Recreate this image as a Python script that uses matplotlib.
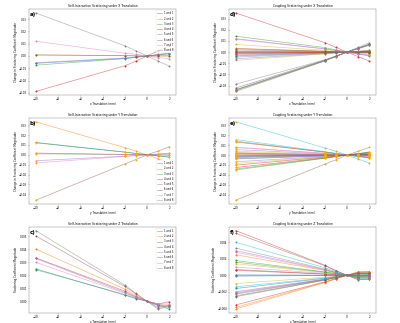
import numpy as np
import matplotlib
matplotlib.use("Agg")
import matplotlib.pyplot as plt

# translation steps (mm)
x_mm = [-10, -2, -1, 0, 1, 2]
tick_x = [-10, -8, -6, -4, -2, 0, 2]

self_labels = ["1 and 1", "2 and 2", "3 and 3", "4 and 4",
               "5 and 5", "6 and 6", "7 and 7", "8 and 8"]

# ---- self-interaction, X translation
self_x = [
    [-0.0060, -0.0020, -0.0010, 0, 0.0010, 0.0020],
    [0.0009, 0.0002, 0.0001, 0, -0.0001, -0.0002],
    [-0.0075, -0.0022, -0.0011, 0, 0.0009, 0.0017],
    [-0.0289, -0.0080, -0.0042, 0, 0.0042, 0.0083],
    [-0.0055, -0.0016, -0.0008, 0, 0.0012, 0.0025],
    [0.0008, 0.0003, 0.0001, 0, 0.0001, 0.0002],
    [0.0120, 0.0022, 0.0014, 0, -0.0014, -0.0022],
    [0.0350, 0.0083, 0.0042, 0, -0.0042, -0.0083],
]

# ---- self-interaction, Y translation
self_y = [
    [0.0125, 0.0028, 0.0014, 0, -0.0011, -0.0024],
    [0.0334, 0.0072, 0.0038, 0, -0.0041, -0.0082],
    [0.0121, 0.0026, 0.0013, 0, -0.0010, -0.0023],
    [0.0017, 0.0004, 0.0002, 0, -0.0001, -0.0003],
    [-0.0060, -0.0014, -0.0007, 0, 0.0007, 0.0014],
    [-0.0460, -0.0092, -0.0048, 0, 0.0038, 0.0082],
    [-0.0082, -0.0017, -0.0009, 0, 0.0008, 0.0017],
    [0.0010, 0.0002, 0.0001, 0, -0.0001, -0.0002],
]

# ---- self-interaction, Z translation
self_z = [
    [0.00250, 0.00047, 0.00020, 0, -0.00034, -0.00060],
    [0.00403, 0.00094, 0.00044, 0, -0.00026, -0.00030],
    [0.00244, 0.00052, 0.00023, 0, -0.00030, -0.00047],
    [0.00335, 0.00078, 0.00036, 0, -0.00020, -0.00003],
    [0.00330, 0.00068, 0.00030, 0, -0.00026, -0.00040],
    [0.00504, 0.00114, 0.00057, 0, -0.00050, -0.00030],
    [0.00300, 0.00062, 0.00030, 0, -0.00020, -0.00020],
    [0.00545, 0.00125, 0.00060, 0, -0.00060, -0.00040],
]

# ---- coupling, X translation (28 coil pairs)
coup_x = [
    [-0.0006, -0.0002, -0.0001, 0, 0.0001, 0.0002],
    [0.0033, 0.0008, 0.0004, 0, -0.0004, -0.0008],
    [0.0142, 0.0040, 0.0019, 0, -0.0018, -0.0036],
    [0.0350, 0.0084, 0.0042, 0, -0.0041, -0.0081],
    [0.0120, 0.0030, 0.0015, 0, -0.0015, -0.0030],
    [0.0020, 0.0005, 0.0002, 0, -0.0002, -0.0005],
    [-0.0020, -0.0005, -0.0002, 0, 0.0002, 0.0005],
    [-0.0288, -0.0070, -0.0036, 0, 0.0042, 0.0084],
    [0.0068, 0.0016, 0.0008, 0, -0.0008, -0.0016],
    [0.0003, 0.0001, 0.0000, 0, -0.0000, -0.0001],
    [-0.0338, -0.0075, -0.0038, 0, 0.0032, 0.0065],
    [-0.0010, -0.0003, -0.0001, 0, 0.0001, 0.0003],
    [-0.0353, -0.0080, -0.0040, 0, 0.0034, 0.0068],
    [-0.0015, -0.0004, -0.0002, 0, 0.0002, 0.0004],
    [-0.0045, -0.0011, -0.0005, 0, 0.0005, 0.0011],
    [-0.0323, -0.0072, -0.0036, 0, 0.0030, 0.0060],
    [0.0010, 0.0002, 0.0001, 0, -0.0001, -0.0002],
    [-0.0027, -0.0006, -0.0003, 0, 0.0003, 0.0006],
    [-0.0074, -0.0017, -0.0009, 0, 0.0009, 0.0017],
    [-0.0340, -0.0078, -0.0039, 0, 0.0036, 0.0072],
    [-0.0035, -0.0008, -0.0004, 0, 0.0004, 0.0008],
    [-0.0345, -0.0079, -0.0040, 0, 0.0033, 0.0066],
    [0.0005, 0.0001, 0.0001, 0, -0.0001, -0.0001],
    [-0.0003, -0.0001, -0.0000, 0, 0.0000, 0.0001],
    [-0.0340, -0.0077, -0.0039, 0, 0.0035, 0.0070],
    [0.0030, 0.0007, 0.0004, 0, -0.0004, -0.0007],
    [0.0115, 0.0027, 0.0014, 0, -0.0013, -0.0027],
    [-0.0060, -0.0014, -0.0007, 0, 0.0007, 0.0014],
]

# ---- coupling, Y translation
coup_y = [
    [0.0020, 0.0004, 0.0002, 0, -0.0002, -0.0004],
    [0.0005, 0.0001, 0.0001, 0, -0.0000, -0.0001],
    [-0.0150, -0.0033, -0.0016, 0, 0.0015, 0.0030],
    [-0.0126, -0.0028, -0.0014, 0, 0.0013, 0.0025],
    [-0.0068, -0.0015, -0.0007, 0, 0.0007, 0.0014],
    [-0.0457, -0.0092, -0.0048, 0, 0.0038, 0.0078],
    [0.0080, 0.0018, 0.0009, 0, -0.0008, -0.0016],
    [0.0010, 0.0002, 0.0001, 0, -0.0001, -0.0002],
    [-0.0086, -0.0019, -0.0009, 0, 0.0009, 0.0017],
    [0.0336, 0.0072, 0.0038, 0, -0.0041, -0.0082],
    [-0.0015, -0.0003, -0.0002, 0, 0.0002, 0.0003],
    [0.0025, 0.0006, 0.0003, 0, -0.0003, -0.0005],
    [0.0140, 0.0031, 0.0015, 0, -0.0014, -0.0028],
    [0.0132, 0.0029, 0.0015, 0, -0.0013, -0.0026],
    [0.0055, 0.0012, 0.0006, 0, -0.0006, -0.0011],
    [-0.0025, -0.0006, -0.0003, 0, 0.0003, 0.0005],
    [-0.0035, -0.0008, -0.0004, 0, 0.0004, 0.0007],
    [-0.0005, -0.0001, -0.0001, 0, 0.0000, 0.0001],
    [0.0038, 0.0008, 0.0004, 0, -0.0004, -0.0008],
    [0.0156, 0.0034, 0.0017, 0, -0.0016, -0.0031],
    [-0.0040, -0.0009, -0.0004, 0, 0.0004, 0.0008],
    [0.0000, 0.0000, 0.0000, 0, 0.0000, 0.0000],
    [-0.0140, -0.0031, -0.0015, 0, 0.0014, 0.0028],
    [-0.0102, -0.0022, -0.0011, 0, 0.0010, 0.0020],
    [0.0015, 0.0003, 0.0002, 0, -0.0002, -0.0003],
    [-0.0010, -0.0002, -0.0001, 0, 0.0001, 0.0002],
    [0.0075, 0.0017, 0.0008, 0, -0.0008, -0.0015],
    [-0.0020, -0.0004, -0.0002, 0, 0.0002, 0.0004],
]

# ---- coupling, Z translation
coup_z = [
    [-0.00010, -0.00002, -0.00001, 0, 0.00001, 0.00002],
    [0.00250, 0.00058, 0.00028, 0, -0.00025, -0.00022],
    [0.00160, 0.00037, 0.00018, 0, -0.00016, -0.00012],
    [0.00543, 0.00123, 0.00056, 0, -0.00054, -0.00050],
    [0.00300, 0.00069, 0.00033, 0, -0.00030, -0.00028],
    [0.00510, 0.00117, 0.00055, 0, -0.00050, -0.00046],
    [0.00280, 0.00064, 0.00031, 0, -0.00028, -0.00030],
    [0.00330, 0.00076, 0.00036, 0, -0.00033, -0.00036],
    [0.00140, 0.00032, 0.00015, 0, -0.00014, -0.00010],
    [0.00400, 0.00092, 0.00044, 0, -0.00040, -0.00042],
    [-0.00160, -0.00037, -0.00018, 0, 0.00016, 0.00018],
    [-0.00390, -0.00084, -0.00042, 0, 0.00040, 0.00044],
    [-0.00260, -0.00060, -0.00029, 0, 0.00026, 0.00030],
    [-0.00360, -0.00080, -0.00040, 0, 0.00036, 0.00040],
    [-0.00200, -0.00046, -0.00022, 0, 0.00020, 0.00024],
    [0.00070, 0.00016, 0.00008, 0, -0.00007, -0.00005],
    [-0.00210, -0.00048, -0.00023, 0, 0.00021, 0.00020],
    [-0.00220, -0.00050, -0.00024, 0, 0.00022, 0.00026],
    [-0.00100, -0.00023, -0.00011, 0, 0.00010, 0.00012],
    [-0.00140, -0.00032, -0.00015, 0, 0.00014, 0.00010],
    [0.00005, 0.00001, 0.00001, 0, -0.00001, 0.00002],
    [-0.00410, -0.00088, -0.00044, 0, 0.00041, 0.00046],
    [0.00180, 0.00041, 0.00020, 0, -0.00018, -0.00016],
    [0.00060, 0.00014, 0.00007, 0, -0.00006, -0.00004],
    [-0.00230, -0.00053, -0.00025, 0, 0.00023, 0.00020],
    [-0.00250, -0.00057, -0.00027, 0, 0.00025, 0.00028],
    [0.00100, 0.00023, 0.00011, 0, -0.00010, -0.00008],
    [0.00000, 0.00000, 0.00000, 0, 0.00000, 0.00002],
]

YL_CHANGE = "Change in Scattering Coefficient Magnitude"
YL_ABS = "Scattering Coefficient Magnitude"

panels = [
    # (data, title, xlabel, ylabel, tag, legend loc, marker colour)
    (self_x, "Self-Interaction Scattering under X Translation", "x Translation (mm)", YL_CHANGE, "a)", "upper right", None),
    (coup_x, "Coupling Scattering under X Translation", "x Translation (mm)", YL_CHANGE, "d)", None, None),
    (self_y, "Self-Interaction Scattering under Y Translation", "y Translation (mm)", YL_CHANGE, "b)", "lower right", "orange"),
    (coup_y, "Coupling Scattering under Y Translation", "y Translation (mm)", YL_CHANGE, "e)", None, "orange"),
    (self_z, "Self-Interaction Scattering under Z Translation", "z Translation (mm)", YL_ABS, "c)", "upper right", None),
    (coup_z, "Coupling Scattering under Z Translation", "z Translation (mm)", YL_ABS, "f)", None, None),
]

plt.rcParams["font.size"] = 10
fig, axes = plt.subplots(3, 2, figsize=(20, 16.15), dpi=20)
fig.subplots_adjust(left=0.0725, right=0.94, top=0.972, bottom=0.031,
                    wspace=0.36, hspace=0.26)

cols = plt.rcParams["axes.prop_cycle"].by_key()["color"]

for ax, (data, title, xl, yl, tag, loc, mcol) in zip(axes.flat, panels):
    for i, row in enumerate(data):
        c = cols[i % len(cols)]
        lab = self_labels[i] if loc else None
        ax.plot(x_mm, row, color=c, lw=2.5, alpha=0.55, label=lab)
        ax.scatter(x_mm, row, color=mcol if mcol else c, s=30, zorder=3)
    ax.set_title(title, fontsize=11)
    ax.set_xlabel(xl)
    ax.set_ylabel(yl)
    ax.set_xticks(tick_x)
    ax.text(0.004, 0.96, tag, transform=ax.transAxes, fontsize=20,
            fontweight="bold", va="top", ha="left")
    if loc:
        ax.legend(loc=loc, fontsize=9)

fig.savefig("out.png", dpi=20)
